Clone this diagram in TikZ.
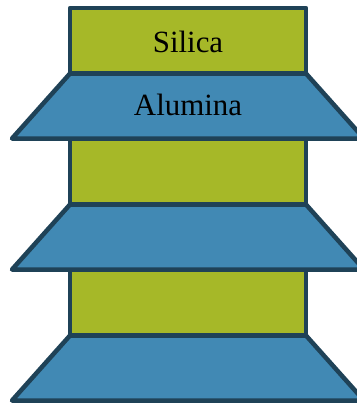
\documentclass[tikz,border=0pt]{standalone}
\usepackage{fontspec}
\setmainfont{Liberation Serif}
\definecolor{silgreen}{HTML}{A6B828}
\definecolor{alublue}{HTML}{4189B4}
\definecolor{edgec}{HTML}{1F4257}
\tikzset{
  layer/.style={draw=edgec, line width=4.5bp, line join=round},
  silbox/.style={layer, fill=silgreen},
  alubox/.style={layer, fill=alublue},
  lbl/.style={font=\fontsize{31}{36}\selectfont, text=black, inner sep=0pt, anchor=base}
}
\begin{document}
\begin{tikzpicture}[x=1bp,y=-1bp]
\useasboundingbox (0,0) rectangle (357,405);
\clip (0,0) rectangle (357,405);
\foreach \k in {0,1,2}{
  \pgfmathsetmacro{\ya}{8+131*\k}
  \pgfmathsetmacro{\yb}{73.5+131*\k}
  \pgfmathsetmacro{\yc}{138.5+131*\k}
  \draw[silbox] (70,\ya) rectangle (306,\yb);
  \draw[alubox] (70,\yb) -- (306,\yb) -- (364,\yc) -- (12,\yc) -- cycle;
}
\node[lbl] (silica) at (188,52) {Silica};
\node[lbl] (alumina) at (188,115) {Alumina};
\end{tikzpicture}
\end{document}
